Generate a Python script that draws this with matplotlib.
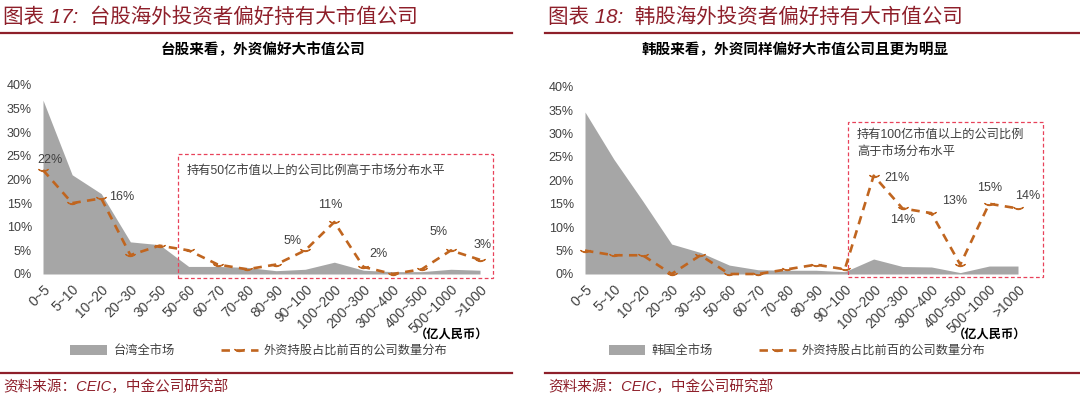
import matplotlib
matplotlib.use('Agg')
import matplotlib.pyplot as plt
from matplotlib.patches import Rectangle, Patch
from matplotlib.lines import Line2D

plt.rcParams['font.family'] = ['Liberation Sans', 'Noto Sans CJK SC', 'DejaVu Sans']

# --- data ---
categories = ['0~5', '5~10', '10~20', '20~30', '30~50', '50~60', '60~70', '70~80',
              '80~90', '90~100', '100~200', '200~300', '300~400', '400~500',
              '500~1000', '>1000']
tw_market = [36.8, 21.0, 17.0, 6.8, 6.2, 1.6, 1.6, 1.4, 0.7, 1.0, 2.5, 0.8, 0.5, 0.5, 1.0, 0.8]
tw_foreign = [22, 15, 16, 4, 6, 5, 2, 1, 2, 5, 11, 1.5, 0, 1, 5, 3]
tw_labels = {0: '22%', 2: '16%', 9: '5%', 10: '11%', 11: '2%', 14: '5%', 15: '3%'}

kr_market = [34.6, 24.5, 15.6, 6.4, 4.6, 1.9, 0.9, 0.8, 0.8, 0.5, 3.2, 1.6, 1.5, 0.3, 1.7, 1.7]
kr_foreign = [5, 4, 4, 0, 4, 0, 0, 1, 2, 1, 21, 14, 13, 2, 15, 14]
kr_labels = {10: '21%', 11: '14%', 12: '13%', 14: '15%', 15: '14%'}

GRAY = '#A6A6A6'
ORANGE = '#C0651F'
DARKRED = '#8E1F2A'
BOXRED = '#E8425A'
TXT = '#404040'

W, H = 1080, 399
fig = plt.figure(figsize=(W / 100, H / 100), dpi=100)


def fx(px):
    return px / W


def fy(py):
    return 1 - py / H


def panel(x0, x1, y40, market, foreign, labels, offsets, box, box_text, box_xy,
          title, subtitle, market_name, sub_x, title_x, line_x0, line_x1, leg_x):
    ax = fig.add_axes([fx(x0), fy(274), fx(x1 - x0), (274 - y40) / H])
    x = list(range(len(categories)))
    ax.fill_between(x, 0, market, color=GRAY, lw=0)
    ax.plot(x, foreign, color=ORANGE, lw=1.9, dashes=(3.2, 2.4),
            marker=r'$\smile$', markersize=7, markeredgewidth=0.8, clip_on=False)
    for i, t in labels.items():
        dx, dy = offsets[i]
        ax.annotate(t, (i, foreign[i]), xytext=(dx, dy), textcoords='offset points',
                    ha='center', va='center', fontsize=9, color=TXT)
    ax.set_xlim(0, len(categories) - 1)
    ax.set_ylim(0, 40)
    ax.set_yticks(range(0, 45, 5))
    ax.set_yticklabels([f'{v}%' for v in range(0, 45, 5)], fontsize=9, color=TXT)
    ax.set_xticks(x)
    ax.set_xticklabels(categories, rotation=45, ha='right', rotation_mode='anchor',
                       fontsize=10, color=TXT)
    ax.tick_params(length=0, axis='y', pad=8)
    ax.tick_params(length=0, axis='x', pad=6)
    for s in ax.spines.values():
        s.set_visible(False)
    bx0, bx1, by0, by1 = box
    ax.add_patch(Rectangle((bx0, by0), bx1 - bx0, by1 - by0, fill=False,
                           ec=BOXRED, lw=0.9, ls=(0, (3, 2)), clip_on=False))
    fig.text(fx(box_xy[0]), fy(box_xy[1]), box_text, fontsize=8.8, color=TXT,
             ha='left', va='center', linespacing=1.45)

    # headers and footers
    fig.text(fx(title_x), fy(17), title, fontsize=14.8, color=DARKRED, style='italic',
             ha='left', va='center')
    fig.add_artist(Line2D([fx(line_x0), fx(line_x1)], [fy(33), fy(33)], color=DARKRED, lw=1.6))
    fig.text(fx(sub_x), fy(50), subtitle, fontsize=10.5, fontweight='bold', color='black',
             ha='center', va='center')
    fig.text(fx(x1 + 8), fy(335), '（亿人民币）', fontsize=8.8, fontweight='bold',
             color='black', ha='right', va='center')
    fig.add_artist(Line2D([fx(line_x0), fx(line_x1)], [fy(372.5), fy(372.5)], color=DARKRED, lw=1.6))
    fig.text(fx(title_x), fy(387), '资料来源：CEIC，中金公司研究部', fontsize=10.5,
             color=DARKRED, style='italic', ha='left', va='center')

    handles = [Patch(color=GRAY, lw=0),
               Line2D([], [], color=ORANGE, lw=1.9, dashes=(3.2, 2.4),
                      marker=r'$\smile$', markersize=7, markeredgewidth=0.8)]
    fig.legend(handles, [market_name, '外资持股占比前百的公司数量分布'],
               loc='center', bbox_to_anchor=(fx(leg_x), fy(351)), ncol=2,
               frameon=False, fontsize=8.8, handlelength=3.0, handleheight=0.9,
               columnspacing=3.8, handletextpad=0.5, labelcolor=TXT)
    return ax


panel(43, 480, 85, tw_market, tw_foreign, tw_labels,
      {0: (5, 7), 2: (15, 1), 9: (-9, 7), 10: (-3, 12), 11: (11, 9), 14: (-9, 13), 15: (2, 11)},
      (4.63, 15.45, -0.8, 25.3),
      '持有50亿市值以上的公司比例高于市场分布水平', (187, 172),
      '图表 17:  台股海外投资者偏好持有大市值公司', '台股来看，外资偏好大市值公司',
      '台湾全市场', 263, 3, 0, 512, 259)

panel(585, 1018, 86.7, kr_market, kr_foreign, kr_labels,
      {10: (17, -2), 11: (0, -8), 12: (17, 9), 14: (0, 11), 15: (7, 9)},
      (9.11, 15.87, -0.6, 32.5),
      '持有100亿市值以上的公司比例\n高于市场分布水平', (857, 144),
      '图表 18:  韩股海外投资者偏好持有大市值公司', '韩股来看，外资同样偏好大市值公司且更为明显',
      '韩国全市场', 795, 548, 545, 1080, 797)

fig.savefig('out.png', dpi=100)
